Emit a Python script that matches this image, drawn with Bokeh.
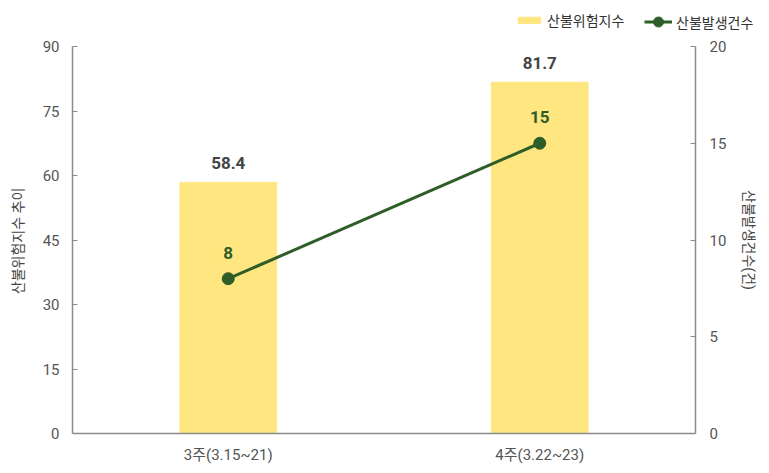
from bokeh.plotting import figure
from bokeh.models import Range1d, LinearAxis, Legend, LegendItem, ColumnDataSource, FixedTicker
from bokeh.embed import file_html
from bokeh.resources import INLINE
from bokeh.core.properties import value

weeks = ["3주(3.15~21)", "4주(3.22~23)"]
risk_index = [58.4, 81.7]
fire_counts = [8, 15]
left_ticks = [0, 15, 30, 45, 60, 75, 90]
right_ticks = [0, 5, 10, 15, 20]
series_names = ["산불위험지수", "산불발생건수"]

FONT = "Roboto, 'Noto Sans CJK KR', sans-serif"
BAR = "#FFE680"
GREEN = "#2E5E27"

n = len(weeks)
xpos = [i + 0.5 for i in range(n)]
src = ColumnDataSource(dict(
    x=xpos, risk=risk_index, cnt=fire_counts,
    risk_lbl=[f"{v:.1f}" for v in risk_index],
    cnt_lbl=[str(v) for v in fire_counts],
))

# the drawing frame extends beyond the axes box so legend / edge labels are not clipped
AX_W, AX_H = 623, 387          # pixel size of the axes box
EXT_R, EXT_T, EXT_B = 67, 34, 36
FR_W, FR_H = AX_W + EXT_R, AX_H + EXT_T + EXT_B
L_MAX, R_MAX = left_ticks[-1], right_ticks[-1]

p = figure(x_range=Range1d(0, n * FR_W / AX_W),
           y_range=Range1d(-L_MAX * EXT_B / AX_H, L_MAX * (AX_H + EXT_T) / AX_H),
           frame_width=FR_W, frame_height=FR_H,
           min_border_left=72, min_border_right=0, min_border_top=12, min_border_bottom=0,
           output_backend="svg", toolbar_location=None)
p.extra_y_ranges = {"right": Range1d(-R_MAX * EXT_B / AX_H, R_MAX * (AX_H + EXT_T) / AX_H)}

p.outline_line_color = None
p.xgrid.grid_line_color = None
p.ygrid.grid_line_color = None

bars = p.vbar(x="x", top="risk", bottom=0, width=0.31, color=BAR, source=src)
line = p.line(x="x", y="cnt", line_color=GREEN, line_width=3, source=src, y_range_name="right")
dots = p.scatter(x="x", y="cnt", size=12, color=GREEN, source=src, y_range_name="right")

p.text(x="x", y="risk", text="risk_lbl", source=src, text_align="center", text_baseline="bottom",
       y_offset=-13, text_font=value(FONT), text_font_style="bold", text_font_size="17px", text_color="#444444")
p.text(x="x", y="cnt", text="cnt_lbl", source=src, text_align="center", text_baseline="bottom",
       y_offset=-20, text_font=value(FONT), text_font_style="bold", text_font_size="17px", text_color=GREEN,
       y_range_name="right")

def style(ax):
    ax.axis_line_color = "#8c8c8c"
    ax.axis_line_width = 1.5
    ax.major_tick_line_color = "#8c8c8c"
    ax.minor_tick_line_color = None
    ax.major_label_text_font = FONT
    ax.major_label_text_font_size = "15px"
    ax.major_label_text_color = "#555555"
    ax.axis_label_text_font = FONT
    ax.axis_label_text_font_size = "14px"
    ax.axis_label_text_font_style = "normal"
    ax.axis_label_text_color = "#444444"

ly = p.yaxis[0]
ly.ticker = FixedTicker(ticks=left_ticks)
ly.bounds = (0, L_MAX)
ly.major_tick_in = 5
ly.major_tick_out = 0
ly.major_label_standoff = 13
ly.axis_label = "산불위험지수 추이"
ly.axis_label_standoff = 14
style(ly)

ry = LinearAxis(y_range_name="right", ticker=FixedTicker(ticks=right_ticks), axis_label="산불발생건수(건)",
                fixed_location=n, bounds=(0, R_MAX))
ry.major_tick_in = 5
ry.major_tick_out = 0
ry.major_label_standoff = 14
ry.axis_label_standoff = 12
style(ry)
p.add_layout(ry, "right")

xa = p.xaxis[0]
xa.ticker = FixedTicker(ticks=xpos)
xa.major_label_overrides = {x: w for x, w in zip(xpos, weeks)}
xa.bounds = (0, n)
xa.fixed_location = 0
xa.major_tick_line_color = None
xa.major_tick_out = 0
xa.major_tick_in = 0
xa.major_label_standoff = 12
style(xa)

common = dict(orientation="horizontal", background_fill_alpha=0, border_line_color=None,
              label_text_font=FONT, label_text_font_size="14px", label_text_color="#333333",
              glyph_width=28, label_standoff=4, padding=0, margin=0)
leg1 = Legend(items=[LegendItem(label=series_names[0], renderers=[bars])],
              location=(443, 439), glyph_height=8, **common)
leg2 = Legend(items=[LegendItem(label=series_names[1], renderers=[line, dots])],
              location=(572, 435), glyph_height=25, **common)
p.add_layout(leg1, "center")
p.add_layout(leg2, "center")

open("out.html", "w").write(file_html(p, INLINE))
